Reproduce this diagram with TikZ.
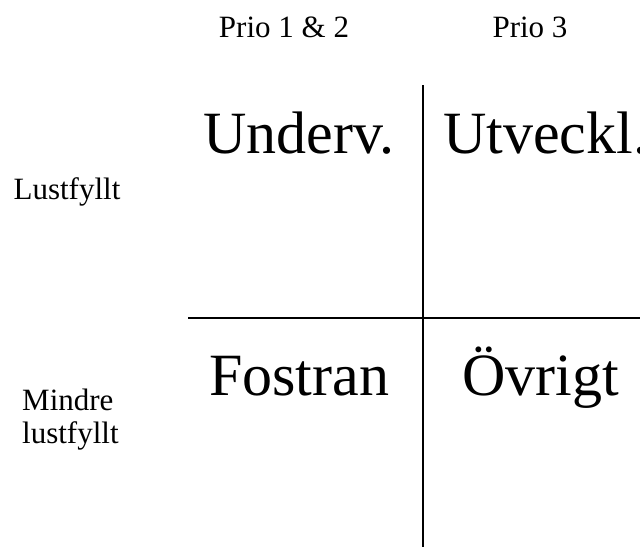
\documentclass[tikz,border=0pt]{standalone}
\usepackage{fontspec}
\setmainfont{Liberation Serif}
\begin{document}
\begin{tikzpicture}[x=1pt,y=-1pt,
  small/.style={font=\fontsize{31}{35}\selectfont, inner sep=0pt, anchor=base},
  big/.style={font=\fontsize{60}{66}\selectfont, inner sep=0pt, anchor=base west},
  axis/.style={line width=2pt, black}]
  \useasboundingbox (0,0) rectangle (640,547);
  \clip (0,0) rectangle (640,547);
  % column headings
  \node[small] (p12) at (284,37) {Prio 1 \& 2};
  \node[small] (p3) at (530,37) {Prio 3};
  % row headings
  \node[small] (lust) at (67,199) {Lustfyllt};
  \node[small, anchor=base west] (mindre) at (22,410) {Mindre};
  \node[small, anchor=base west] (mindre2) at (22,443) {lustfyllt};
  % quadrant labels
  \node[big] (underv) at (203,153) {Underv.};
  \node[big] (utv) at (443,153) {Utveckl.};
  \node[big] (fostran) at (209,395) {Fostran};
  \node[big] (ovrigt) at (462,395) {Övrigt};
  % dividing lines
  \coordinate (vtop) at (423,85);
  \coordinate (vbot) at (423,547);
  \coordinate (hl) at (188,318);
  \coordinate (hr) at (640,318);
  \draw[axis] (vtop) -- (vbot);
  \draw[axis] (hl) -- (hr);
\end{tikzpicture}
\end{document}
